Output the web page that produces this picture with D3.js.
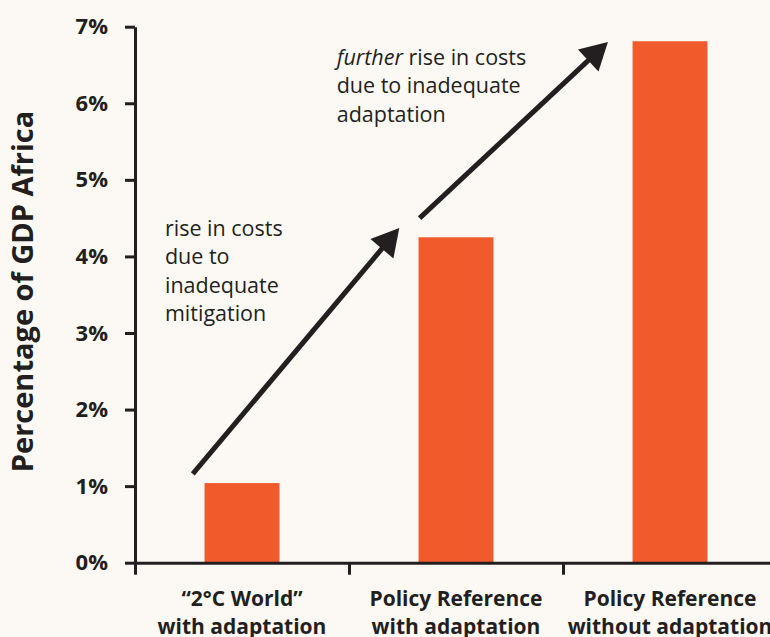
<!DOCTYPE html>
<html lang="en">
  <head>
    <meta charset="UTF-8" />
    <title>Cost of climate change - Africa</title>
    <script src="https://d3js.org/d3.v7.min.js"></script>
    <style>
      html, body { margin: 0; padding: 0; background: #fcf9f4; overflow: hidden; }
      svg { display: block; }
    </style>
  </head>
  <body>
    <svg id="chart" width="770" height="637"></svg>

    <script>
      // data
      const categories = [
        ["\u201C2\u00B0C World\u201D", "with adaptation"],
        ["Policy Reference", "with adaptation"],
        ["Policy Reference", "without adaptation"],
      ];
      const values = [0.0104, 0.0425, 0.0681];
      const yTicks = [0, 0.01, 0.02, 0.03, 0.04, 0.05, 0.06, 0.07];

      // arrows in data units: x = band index position, y = share of GDP
      const arrows = [
        { x1: 0.27, y1: 0.0116, x2: 1.235, y2: 0.0437 },
        { x1: 1.33, y1: 0.045, x2: 2.21, y2: 0.068 },
      ];
      const notes = [
        { x: 0.14, y: 0.0427, lines: [["rise in costs"], ["due to"], ["inadequate"], ["mitigation"]] },
        { x: 0.9425, y: 0.065, lines: [["further", " rise in costs"], ["due to inadequate"], ["adaptation"]] },
      ];

      const ink = "#231f20";
      const orange = "#f15a2b";
      const fontFamily = "'Open Sans', sans-serif";

      const svg = d3.select("#chart");
      const plotLeft = 135, plotRight = 777, plotTop = 26.7, plotBottom = 562.7;

      const y = d3.scaleLinear().domain([0, 0.07]).range([plotBottom, plotTop]);
      const xPos = d3.scaleLinear().domain([0, 3]).range([plotLeft, plotRight]);
      const x = d3
        .scaleBand()
        .domain(d3.range(categories.length))
        .range([plotLeft, plotRight])
        .paddingInner(0.65)
        .paddingOuter(0.325);

      // bars
      svg
        .append("g")
        .selectAll("rect")
        .data(values)
        .join("rect")
        .attr("x", (d, i) => x(i))
        .attr("width", x.bandwidth())
        .attr("y", (d) => y(d))
        .attr("height", (d) => y(0) - y(d))
        .attr("fill", orange);

      // y axis
      const yAxis = svg
        .append("g")
        .attr("transform", `translate(${plotLeft},0)`)
        .call(
          d3.axisLeft(y).tickValues(yTicks).tickFormat(d3.format(".0%"))
            .tickSize(10).tickSizeOuter(0).tickPadding(17)
        );
      yAxis.select(".domain").attr("stroke", ink).attr("stroke-width", 3);
      yAxis.selectAll(".tick line").attr("stroke", ink).attr("stroke-width", 3);
      yAxis.selectAll(".tick text")
        .attr("fill", ink)
        .style("font", `bold 22px ${fontFamily}`);

      // x axis: ticks at band boundaries
      const xAxis = svg
        .append("g")
        .attr("transform", `translate(0,${plotBottom})`)
        .call(d3.axisBottom(xPos).tickValues([0, 1, 2, 3]).tickFormat("").tickSize(12).tickSizeOuter(0));
      xAxis.select(".domain").attr("stroke", ink).attr("stroke-width", 3);
      xAxis.selectAll(".tick line").attr("stroke", ink).attr("stroke-width", 3);

      // category labels
      const catText = svg
        .append("g")
        .selectAll("text")
        .data(categories)
        .join("text")
        .attr("x", (d, i) => x(i) + x.bandwidth() / 2)
        .attr("y", 606)
        .attr("text-anchor", "middle")
        .attr("fill", ink)
        .style("font", `bold 21px ${fontFamily}`);
      catText
        .selectAll("tspan")
        .data((d) => d)
        .join("tspan")
        .attr("x", function () { return d3.select(this.parentNode).attr("x"); })
        .attr("dy", (d, i) => (i === 0 ? 0 : 28))
        .text((d) => d);

      // y axis title
      svg
        .append("text")
        .attr("transform", `translate(33,${(110 + 473) / 2}) rotate(-90)`)
        .attr("text-anchor", "middle")
        .attr("fill", ink)
        .style("font", `bold 29px ${fontFamily}`)
        .text("Percentage of GDP Africa");

      // arrows
      const headLen = 27, headHalf = 15;
      arrows.forEach((a) => {
        const sx = xPos(a.x1), sy = y(a.y1), ex = xPos(a.x2), ey = y(a.y2);
        const ang = Math.atan2(ey - sy, ex - sx);
        const cos = Math.cos(ang), sin = Math.sin(ang);
        const bx = ex - headLen * cos, by = ey - headLen * sin;
        svg
          .append("line")
          .attr("x1", sx).attr("y1", sy)
          .attr("x2", bx + 2 * cos).attr("y2", by + 2 * sin)
          .attr("stroke", ink)
          .attr("stroke-width", 5);
        svg
          .append("path")
          .attr("d", d3.line()([
            [ex, ey],
            [bx - headHalf * sin, by + headHalf * cos],
            [bx + headHalf * sin, by - headHalf * cos],
          ]) + "Z")
          .attr("fill", ink);
      });

      // annotation text
      notes.forEach((n) => {
        const t = svg
          .append("text")
          .attr("fill", ink)
          .style("font", `21.5px ${fontFamily}`);
        n.lines.forEach((parts, i) => {
          parts.forEach((p, j) => {
            const ts = t.append("tspan").text(p);
            if (j === 0) ts.attr("x", xPos(n.x)).attr("y", y(n.y) + i * 28.5);
            if (parts.length > 1 && j === 0) ts.style("font-style", "italic");
          });
        });
      });
    </script>
  </body>
</html>
